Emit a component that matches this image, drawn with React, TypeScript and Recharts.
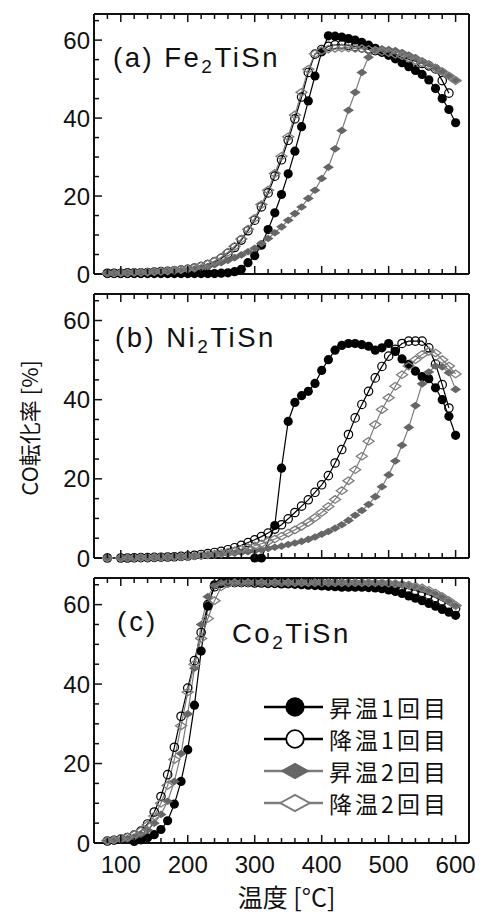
import React from "react";
import { LineChart, Line, XAxis, YAxis } from "recharts";

// temperatures [°C], one point every 10 °C
const temps = [
  80, 90, 100, 110, 120, 130, 140, 150, 160, 170,
  180, 190, 200, 210, 220, 230, 240, 250, 260, 270,
  280, 290, 300, 310, 320, 330, 340, 350, 360, 370,
  380, 390, 400, 410, 420, 430, 440, 450, 460, 470,
  480, 490, 500, 510, 520, 530, 540, 550, 560, 570,
  580, 590, 600,
];

// (a) Fe2TiSn
const aH1 = [
  0.1, 0.1, 0.1, 0.1, 0.1, 0.1, 0.1, 0.1, 0.1, 0.1,
  0.1, 0.1, 0.1, 0.1, 0.1, 0.1, 0.1, 0.2, 0.3, 0.6,
  1.2, 2.9, 4.7, 7.4, 11.4, 15.7, 20.4, 25.7, 31.5, 37.8,
  44.4, 50.8, 57.0, 61.1, 61.0, 60.8, 60.4, 60.0, 59.4, 58.7,
  57.9, 57.0, 56.1, 55.2, 54.2, 53.2, 52.2, 51.2, 49.8, 47.6,
  45.0, 42.2, 38.8,
];
const aC1 = [
  0.2, 0.2, 0.2, 0.3, 0.3, 0.3, 0.4, 0.5, 0.6, 0.7,
  0.8, 1.0, 1.2, 1.5, 1.9, 2.4, 3.1, 4.0, 5.3, 6.8,
  8.7, 11.1, 13.8, 17.2, 20.8, 25.1, 29.3, 34.3, 39.8, 45.4,
  51.7, 56.4, 57.6, 58.4, 58.8, 58.8, 58.6, 58.3, 58.0, 57.7,
  57.3, 56.9, 56.5, 56.0, 55.6, 55.1, 54.6, 54.0, 53.4, 52.6,
  49.6, 46.4, null,
];
const aH2 = [
  0.2, 0.2, 0.3, 0.3, 0.3, 0.4, 0.4, 0.5, 0.6, 0.7,
  0.8, 0.9, 1.1, 1.3, 1.6, 1.9, 2.4, 2.9, 3.5, 4.2,
  4.9, 5.7, 6.6, 7.8, 9.1, 10.6, 12.1, 13.8, 15.5, 17.2,
  19.4, 21.5, 24.5, 27.4, 32.1, 36.8, 42.0, 46.6, 51.7, 55.6,
  57.5, 57.8, 57.6, 57.3, 56.8, 56.2, 55.5, 54.7, 53.9, 53.0,
  52.0, 50.9, 49.8,
];
const aC2 = [
  0.2, 0.2, 0.3, 0.3, 0.4, 0.4, 0.5, 0.6, 0.7, 0.8,
  1.0, 1.2, 1.4, 1.7, 2.1, 2.6, 3.3, 4.3, 5.6, 7.1,
  9.0, 11.5, 14.3, 17.8, 21.5, 25.8, 30.2, 35.2, 40.8, 46.6,
  52.5, 56.5, 57.3, 57.7, 57.9, 58.0, 58.0, 57.9, 57.8, 57.6,
  57.4, 57.1, 56.8, 56.4, 56.0, 55.4, 54.8, 54.2, 53.5, 52.8,
  51.9, 50.8, 49.6,
];

// (b) Ni2TiSn
const bH1 = [
  null, null, null, null, null, null, null, null, null, null,
  null, null, null, null, null, null, null, null, null, null,
  null, null, 0, 0, null, 8.2, 22.7, 34.5, 39.3, 41.0,
  42.1, 44.1, 47.4, 50.1, 52.5, 53.7, 54.2, 54.2, 53.9, 53.5,
  52.5, 53.1, 54.2, 52.2, 50.3, 48.9, 47.2, 45.8, 45.3, 43.0,
  40.0, 35.8, 31.0,
];
const bC1 = [
  0, null, 0, 0, 0.05, 0.1, 0.1, 0.15, 0.2, 0.25,
  0.3, 0.4, 0.5, 0.7, 0.9, 1.1, 1.4, 1.7, 2.1, 2.6,
  3.2, 3.9, 4.6, 5.4, 6.3, 7.3, 8.4, 9.9, 11.5, 13.1,
  14.7, 16.6, 18.5, 20.8, 24.0, 27.4, 31.2, 35.4, 38.8, 42.1,
  45.5, 48.4, 51.0, 52.7, 54.2, 54.8, 54.8, 54.8, 53.1, 49.0,
  43.8, 37.9, null,
];
const bH2 = [
  0, null, 0, 0, 0.05, 0.1, 0.1, 0.15, 0.2, 0.25,
  0.3, 0.35, 0.4, 0.5, 0.6, 0.7, 0.8, 0.9, 1.0, 1.2,
  1.4, 1.6, 1.8, 2.1, 2.4, 2.7, 3.0, 3.4, 3.8, 4.2,
  4.7, 5.3, 6.0, 6.7, 7.5, 8.4, 9.5, 10.8, 12.0, 13.5,
  15.5, 18.0, 21.0, 24.5, 28.5, 33.0, 38.5, 44.0, 47.0, 48.5,
  48.3, 46.8, 42.6,
];
const bC2 = [
  0, null, 0, 0, 0.05, 0.1, 0.1, 0.15, 0.2, 0.25,
  0.3, 0.35, 0.4, 0.5, 0.6, 0.8, 1.0, 1.2, 1.5, 1.8,
  2.2, 2.6, 3.1, 3.6, 4.2, 4.8, 5.5, 6.3, 7.1, 8.0,
  9.0, 10.2, 11.5, 13.0, 14.8, 17.0, 19.5, 22.3, 25.7, 29.5,
  33.7, 37.5, 40.5, 43.4, 46.3, 48.5, 50.1, 51.4, 52.2, 51.8,
  50.1, 48.5, 46.5,
];

// (c) Co2TiSn
const cH1 = [
  null, null, null, null, 0.4, 0.8, 1.3, 2.1, 3.4, 5.6,
  9.8, 15.5, 23.5, 34.7, 48.3, 59.6, 65.0, 65.4, 65.5, 65.5,
  65.5, 65.5, 65.4, 65.4, 65.3, 65.3, 65.2, 65.2, 65.1, 65.0,
  64.9, 64.8, 64.7, 64.6, 64.5, 64.4, 64.4, 64.4, 64.4, 64.3,
  64.2, 64.0, 63.7, 63.3, 62.8, 62.2, 61.6, 61.0, 60.3, 59.6,
  58.8, 58.1, 57.3,
];
const cC1 = [
  0.5, 0.7, 1.0, 1.4, 2.0, 3.0, 4.8, 7.8, 11.7, 17.2,
  24.1, 31.9, 39.0, 45.9, 53.0, 60.0, 64.5, 65.4, 65.6, 65.6,
  65.6, 65.6, 65.6, 65.6, 65.5, 65.5, 65.5, 65.5, 65.4, 65.4,
  65.4, 65.4, 65.3, 65.3, 65.3, 65.3, 65.2, 65.2, 65.1, 65.0,
  64.9, 64.8, 64.7, 64.5, 64.3, 64.0, 63.6, 63.1, 62.5, 61.8,
  61.0, 60.0, 59.0,
];
const cH2 = [
  0.4, 0.6, 0.8, 1.1, 1.5, 2.2, 3.3, 5.0, 7.2, 10.5,
  15.5, 22.5, 32.5, 44.0, 55.0, 62.0, 64.8, 65.5, 65.7, 65.7,
  65.7, 65.7, 65.7, 65.7, 65.7, 65.7, 65.7, 65.6, 65.6, 65.6,
  65.6, 65.6, 65.6, 65.6, 65.6, 65.6, 65.6, 65.6, 65.6, 65.5,
  65.5, 65.5, 65.4, 65.3, 65.1, 64.8, 64.4, 63.9, 63.3, 62.6,
  61.8, 60.8, 59.6,
];
const cC2 = [
  0.6, 0.8, 1.1, 1.5, 2.1, 3.0, 4.5, 6.8, 10.0, 14.5,
  21.0, 29.5, 38.0, 45.0, 51.5, 56.5, 61.0, 64.5, 65.3, 65.5,
  65.5, 65.5, 65.5, 65.5, 65.5, 65.5, 65.5, 65.5, 65.5, 65.5,
  65.5, 65.5, 65.5, 65.5, 65.5, 65.5, 65.5, 65.5, 65.5, 65.5,
  65.5, 65.5, 65.4, 65.3, 65.1, 64.9, 64.6, 64.2, 63.6, 62.9,
  62.0, 61.0, 59.8,
];

const seriesNames = ["昇温1回目", "降温1回目", "昇温2回目", "降温2回目"];
const xTicks = [
  80, 100, 120, 140, 160, 180, 200, 220, 240, 260, 280, 300, 320, 340, 360, 380,
  400, 420, 440, 460, 480, 500, 520, 540, 560, 580, 600,
];
const yTicks = [0, 5, 10, 15, 20, 25, 30, 35, 40, 45, 50, 55, 60, 65];
const xLabels = [100, 200, 300, 400, 500, 600];
const yLabels = [0, 20, 40, 60];

const makeRows = (h1: any[], c1: any[], h2: any[], c2: any[]) =>
  temps.map((t, i) => ({ t, h1: h1[i], c1: c1[i], h2: h2[i], c2: c2[i] }));

const rowsA = makeRows(aH1, aC1, aH2, aC2);
const rowsB = makeRows(bH1, bC1, bH2, bC2);
const rowsC = makeRows(cH1, cC1, cH2, cC2);

const INK = "#111";
const GRAY_FILL = "#666";
const GRAY_LINE = "#7c7c7c";
const SANS = "'Liberation Sans', Arial, Helvetica, sans-serif";
const JP = "'Noto Sans CJK JP', 'Noto Sans CJK SC', sans-serif";

const Marker = ({ kind, cx, cy, s = 1, legend = false }: any) => {
  const w = (legend ? 7 : 5.5) * s;
  const h = (legend ? 3.9 : 3.8) * s;
  const diamond = `M${cx - w},${cy} L${cx},${cy - h} L${cx + w},${cy} L${cx},${cy + h} Z`;
  if (kind === "h1") return <circle cx={cx} cy={cy} r={4.6 * s} fill="#000" />;
  if (kind === "c1")
    return <circle cx={cx} cy={cy} r={4.2 * s} fill={legend ? "#fff" : "none"} stroke="#000" strokeWidth={legend ? 1.8 : 1.2} />;
  if (kind === "h2") return <path d={diamond} fill={GRAY_FILL} />;
  return <path d={diamond} fill={legend ? "#fff" : "none"} stroke={GRAY_LINE} strokeWidth={legend ? 2 : 1.3} />;
};

const dotFor = (kind: string) => (p: any) => {
  if (p.cx == null || p.cy == null || p.value == null) return <g key={`${kind}-${p.index}`} />;
  return (
    <g key={`${kind}-${p.index}`}>
      <Marker kind={kind} cx={p.cx} cy={p.cy} />
    </g>
  );
};

const BottomTick = (p: any) => {
  const major = xLabels.includes(p.payload.value);
  return (
    <g>
      <line x1={p.x} x2={p.x} y1={p.y} y2={p.y - (major ? 8 : 5)} stroke={INK} strokeWidth={1.5} />
      {p.showLabel && major ? (
        <text x={p.x} y={p.y + 30} textAnchor="middle" fontSize={24} fontFamily={SANS} fill={INK}>
          {p.payload.value}
        </text>
      ) : null}
    </g>
  );
};

const TopTick = (p: any) => {
  const major = xLabels.includes(p.payload.value);
  return <line x1={p.x} x2={p.x} y1={p.y} y2={p.y + (major ? 8 : 5)} stroke={INK} strokeWidth={1.5} />;
};

const LeftTick = (p: any) => {
  const major = yLabels.includes(p.payload.value);
  return (
    <g>
      <line x1={p.x} x2={p.x + (major ? 8 : 5)} y1={p.y} y2={p.y} stroke={INK} strokeWidth={1.5} />
      {major ? (
        <text x={p.x - 4} y={p.y + 8.5} textAnchor="end" fontSize={24} fontFamily={SANS} fill={INK}>
          {p.payload.value}
        </text>
      ) : null}
    </g>
  );
};

const RightTick = (p: any) => {
  const major = yLabels.includes(p.payload.value);
  return <line x1={p.x} x2={p.x - (major ? 8 : 5)} y1={p.y} y2={p.y} stroke={INK} strokeWidth={1.5} />;
};

const frame = { stroke: INK, strokeWidth: 2 };

const Panel = ({ rows, top, height, bottomH, showX }: any) => (
  <div style={{ position: "absolute", left: 0, top, width: 480, height }}>
    <LineChart width={480} height={height} data={rows} margin={{ top: 0, right: 0, bottom: 0, left: 0 }}>
      <XAxis
        xAxisId="b"
        type="number"
        dataKey="t"
        domain={[60, 620]}
        ticks={xTicks}
        interval={0}
        height={bottomH}
        tickSize={0}
        tickMargin={0}
        tickLine={false}
        axisLine={frame}
        tick={(p: any) => <BottomTick {...p} showLabel={showX} />}
        label={
          showX
            ? {
                content: (lp: any) => (
                  <text
                    x={lp.viewBox.x + lp.viewBox.width / 2 + 5}
                    y={lp.viewBox.y + 64}
                    textAnchor="middle"
                    fontSize={25}
                    fontFamily={JP}
                    fill={INK}
                  >
                    温度 [°C]
                  </text>
                ),
              }
            : undefined
        }
      />
      <XAxis
        xAxisId="t"
        orientation="top"
        type="number"
        dataKey="t"
        domain={[60, 620]}
        ticks={xTicks}
        interval={0}
        height={14}
        tickSize={0}
        tickMargin={0}
        tickLine={false}
        axisLine={frame}
        tick={TopTick}
      />
      <YAxis
        yAxisId="l"
        type="number"
        domain={[0, 66.7]}
        ticks={yTicks}
        interval={0}
        width={94}
        tickSize={0}
        tickMargin={0}
        tickLine={false}
        axisLine={frame}
        tick={LeftTick}
      />
      <YAxis
        yAxisId="r"
        orientation="right"
        type="number"
        domain={[0, 66.7]}
        ticks={yTicks}
        interval={0}
        width={11}
        tickSize={0}
        tickMargin={0}
        tickLine={false}
        axisLine={frame}
        tick={RightTick}
      />
      <Line xAxisId="b" yAxisId="l" dataKey="h1" name={seriesNames[0]} stroke="#000" strokeWidth={1.2}
        dot={dotFor("h1")} activeDot={false} connectNulls isAnimationActive={false} />
      <Line xAxisId="b" yAxisId="l" dataKey="c1" name={seriesNames[1]} stroke="#000" strokeWidth={1.2}
        dot={dotFor("c1")} activeDot={false} connectNulls isAnimationActive={false} />
      <Line xAxisId="b" yAxisId="l" dataKey="h2" name={seriesNames[2]} stroke={GRAY_LINE} strokeWidth={1.2}
        dot={dotFor("h2")} activeDot={false} connectNulls isAnimationActive={false} />
      <Line xAxisId="b" yAxisId="l" dataKey="c2" name={seriesNames[3]} stroke={GRAY_LINE} strokeWidth={1.2}
        dot={dotFor("c2")} activeDot={false} connectNulls isAnimationActive={false} />
    </LineChart>
  </div>
);

const legendKinds = ["h1", "c1", "h2", "c2"];

export default function App() {
  return (
    <div style={{ position: "absolute", left: 0, top: 0, width: 480, height: 915, background: "#fff" }}>
      <Panel rows={rowsA} top={0} height={290} bottomH={16} showX={false} />
      <Panel rows={rowsB} top={280} height={290} bottomH={12} showX={false} />
      <Panel rows={rowsC} top={564} height={351} bottomH={72} showX={true} />
      <svg width={480} height={915} style={{ position: "absolute", left: 0, top: 0, pointerEvents: "none" }}>
        <text
          transform="translate(28,428) rotate(-90)"
          textAnchor="middle"
          dominantBaseline="central"
          fontSize={22}
          fontFamily={JP}
          fill={INK}
        >
          CO転化率 [%]
        </text>

        <text x={113} y={67} fontSize={27.5} fontFamily={SANS} fill={INK} letterSpacing={2.5}>
          (a) Fe<tspan dy={6} fontSize={19}>2</tspan><tspan dy={-6}>TiSn</tspan>
        </text>
        <text x={115} y={347} fontSize={27.5} fontFamily={SANS} fill={INK} letterSpacing={2.5}>
          (b) Ni<tspan dy={6} fontSize={19}>2</tspan><tspan dy={-6}>TiSn</tspan>
        </text>
        <text x={117} y={631} fontSize={27.5} fontFamily={SANS} fill={INK} letterSpacing={3}>
          (c)
        </text>
        <text x={232} y={643} fontSize={27.5} fontFamily={SANS} fill={INK} letterSpacing={2.5}>
          Co<tspan dy={6} fontSize={19}>2</tspan><tspan dy={-6}>TiSn</tspan>
        </text>

        {legendKinds.map((k, i) => {
          const y = 707 + i * 32;
          const col = k === "h1" || k === "c1" ? "#000" : GRAY_LINE;
          return (
            <g key={k}>
              <line x1={264} x2={323} y1={y} y2={y} stroke={col} strokeWidth={2.5} />
              <Marker kind={k} cx={295} cy={y} s={2.1} legend />
              <text
                x={329}
                y={y}
                dominantBaseline="central"
                fontSize={23}
                fontFamily={JP}
                fill={INK}
                textLength={117}
                lengthAdjust="spacing"
              >
                {seriesNames[i]}
              </text>
            </g>
          );
        })}
      </svg>
    </div>
  );
}
